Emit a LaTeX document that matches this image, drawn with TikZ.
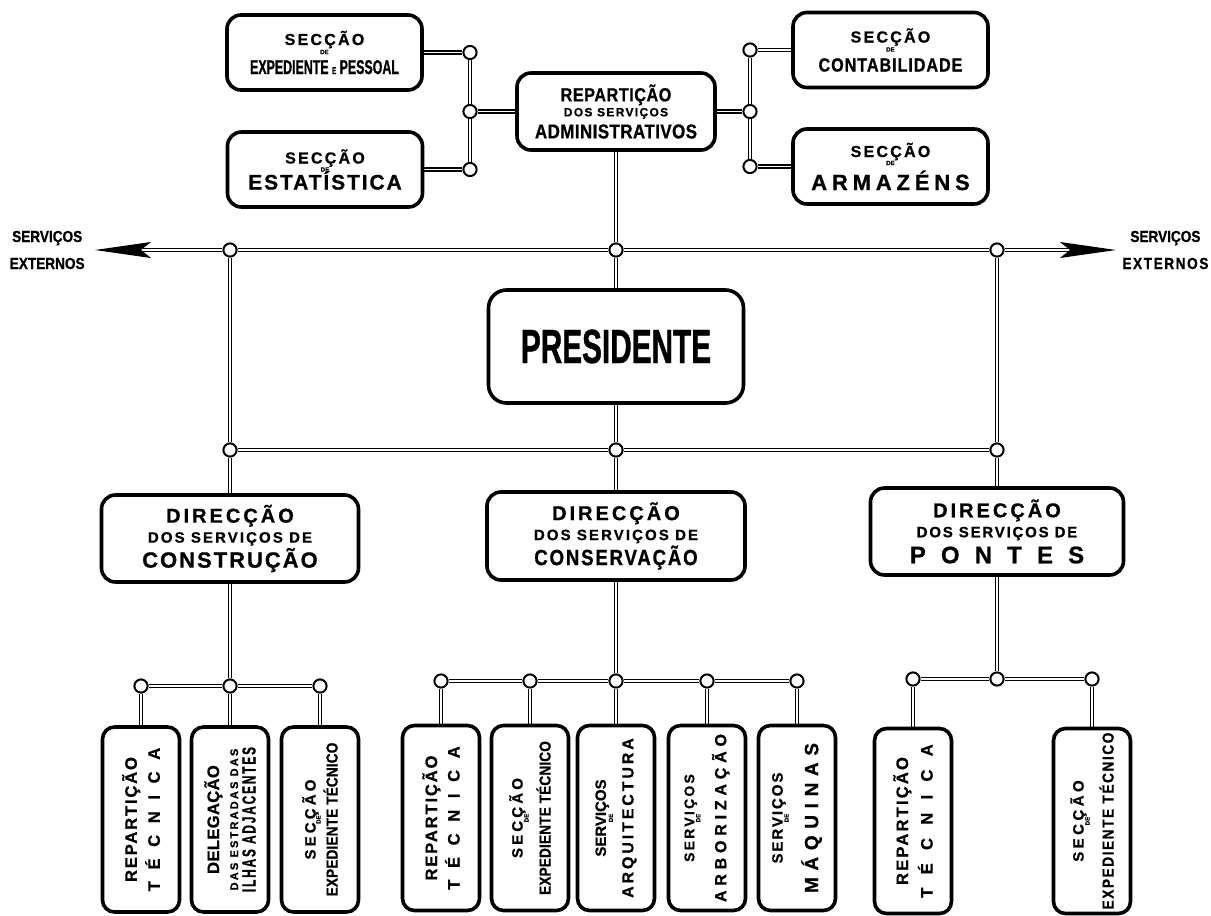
\documentclass[tikz,border=0pt]{standalone}
\usepackage{fontspec}
\setmainfont{Liberation Sans}[BoldFeatures={FakeBold=0.8}]
\newfontfamily\narrow{Liberation Sans}[FakeStretch=0.85,BoldFeatures={FakeBold=0.8}]
\newfontfamily\condfont{Liberation Sans}[FakeStretch=0.62,BoldFeatures={FakeBold=0.8}]
\usetikzlibrary{arrows.meta,backgrounds}
\newcommand\sz[1]{\fontsize{#1}{#1}\selectfont}
\newcommand\trk[2]{{\addfontfeatures{LetterSpace=#1}#2}}

\begin{document}
\begin{tikzpicture}[x=0.5pt,y=-0.5pt,>=Stealth,
  box/.style={draw,line width=1.8pt,rounded corners=7pt,align=center,inner sep=0pt,
    font=\bfseries\fontsize{8}{20}\selectfont},
  sect/.style={box,minimum width=97.5pt,minimum height=37.5pt},
  dirbox/.style={box,minimum width=128.5pt,minimum height=43.5pt},
  subbox/.style={box,rotate=90,minimum width=92.5pt,minimum height=38.5pt,rounded corners=6pt},
  junc/.style={circle,draw,fill=white,line width=1pt,minimum size=6.6pt,inner sep=0pt},
  conn/.style={double,line width=0.65pt,double distance=0.8pt},
  outarrow/.style={conn,-{Stealth[length=28pt,width=8pt,inset=5pt]}},
  outer/.style={font=\bfseries\fontsize{8}{20}\selectfont,align=center,inner sep=0pt}]
  \useasboundingbox (0,0) rectangle (1211,916);
  % administrative sections
  \node[sect] (exped) at (324.5,52.5) {\sz{8}\trk{14}{SECÇÃO}\\[-15.5pt]\sz{3}DE\\[-10pt]\condfont\sz{10}EXPEDIENTE {\sz{5}E} PESSOAL};
  \node[sect] (estat) at (325,169.5) {\sz{8}\trk{14}{SECÇÃO}\\[-16pt]\sz{3}DE\\[-11pt]\sz{10.5}\trk{9}{ESTATÍSTICA}};
  \node[sect] (contab) at (890.5,50) {\sz{8}\trk{14}{SECÇÃO}\\[-15.5pt]\sz{3}DE\\[-10pt]\narrow\sz{9.5}\trk{5}{CONTABILIDADE}};
  \node[sect] (armaz) at (890.5,166.5) {\sz{8}\trk{14}{SECÇÃO}\\[-16pt]\sz{3}DE\\[-7.5pt]\sz{11}\trk{22}{ARMAZÉNS}};
  \node[box,minimum width=99pt,minimum height=38.5pt] (admin) at (616,111.5)
    {\narrow\sz{9.5}\trk{3}{REPARTIÇÃO}\\[-12.5pt]\sz{6}\trk{11}{DOS SERVIÇOS}\\[-9pt]\narrow\sz{10}\trk{2}{ADMINISTRATIVOS}};
  \node[box,minimum width=127.5pt,minimum height=56.5pt,rounded corners=9pt] (pres) at (616,346.5)
    {\condfont\sz{24}PRESIDENTE};
  % direccoes
  \node[dirbox] (dconst) at (230,538.5)
    {\sz{10}\trk{15}{DIRECÇÃO}\\[-10pt]\sz{7.5}\trk{14}{DOS SERVIÇOS DE}\\[-7.5pt]\sz{11}\trk{9}{CONSTRUÇÃO}};
  \node[dirbox,minimum width=129pt,minimum height=44pt] (dcons) at (616,536)
    {\sz{10}\trk{15}{DIRECÇÃO}\\[-10pt]\sz{7.5}\trk{14}{DOS SERVIÇOS DE}\\[-7.5pt]\narrow\sz{11}\trk{8}{CONSERVAÇÃO}};
  \node[dirbox,minimum width=126.5pt] (dpont) at (997,531.5)
    {\sz{10}\trk{15}{DIRECÇÃO}\\[-10pt]\sz{7.5}\trk{12}{DOS SERVIÇOS DE}\\[-7pt]\sz{12}\trk{63}{PONTES}};
  % servicos externos
  \node[outer,anchor=east] (extL) at (85,250) {\narrow\sz{8}SERVIÇOS\\[-6.5pt]\narrow\sz{8}EXTERNOS};
  \node[outer,anchor=west] (extR) at (1122,250) {\narrow\sz{8}SERVIÇOS\\[-6.5pt]\narrow\sz{8}\trk{10}{EXTERNOS}};
  % junctions
  \foreach \n/\x/\y in {jl1/470/52.5,jl2/470/111.5,jl3/470/169.5,jr1/750/50,jr2/750/111.5,jr3/750/166.5,
      ja/230/250,jb/616/250,jc/997/250,jd/230/450,je/616/450,jf/997/450,
      k1/141/686,k2/230/686,k3/320/686,
      m1/441/681,m2/530/681,m3/616/681,m4/707/681,m5/797/681,
      p1/913/679,p2/997/679,p3/1092/679}
    \node[junc] (\n) at (\x,\y) {};
  % subordinate services
  \node[subbox] (s1) at (141,819.5) {\sz{8.3}\trk{11}{REPARTIÇÃO}\\[-8.5pt]\sz{8.3}\trk{70}{TÉCNICA}};
  \node[subbox] (s2) at (230,819.5) {\sz{8.3}\trk{2}{DELEGAÇÃO}\\[-10.5pt]\sz{5.5}\trk{20}{DAS ESTRADAS DAS}\\[-11.25pt]\condfont\sz{9.5}\trk{10}{ILHAS ADJACENTES}};
  \node[subbox] (s3) at (320,819.5) {\sz{7.5}\trk{21}{SECÇÃO}\\[-17.5pt]\sz{3}DE\\[-11.5pt]\narrow\sz{8}\trk{1}{EXPEDIENTE TÉCNICO}};
  \node[subbox] (t1) at (441,818) {\sz{8.3}\trk{11}{REPARTIÇÃO}\\[-8.75pt]\sz{8.3}\trk{70}{TÉCNICA}};
  \node[subbox] (t2) at (530,818) {\sz{7.5}\trk{21}{SECÇÃO}\\[-17pt]\sz{3}DE\\[-9pt]\narrow\sz{8}\trk{1}{EXPEDIENTE TÉCNICO}};
  \node[subbox] (t3) at (616,818) {\sz{7.5}SERVIÇOS\\[-16.5pt]\sz{3}DE\\[-9.75pt]\sz{8}\trk{18}{ARQUITECTURA}};
  \node[subbox] (t4) at (707,818) {\sz{7}\trk{16}{SERVIÇOS}\\[-17pt]\sz{3}DE\\[-7pt]\sz{8}\trk{30}{ARBORIZAÇÃO}};
  \node[subbox] (t5) at (797,818) {\sz{7.5}\trk{13}{SERVIÇOS}\\[-17pt]\sz{3}DE\\[-5.25pt]\sz{9.5}\trk{35}{MÁQUINAS}};
  \node[subbox] (u1) at (913,821) {\sz{8.3}\trk{13}{REPARTIÇÃO}\\[-7.7pt]\sz{8.3}\trk{80}{TÉCNICA}};
  \node[subbox] (u2) at (1092,821) {\sz{7.5}\trk{23}{SECÇÃO}\\[-17pt]\sz{3}DE\\[-8pt]\narrow\sz{8}\trk{10}{EXPEDIENTE TÉCNICO}};
  % connectors
  \begin{scope}[on background layer]
    \draw[conn] (exped) -- (jl1) -- (jl2) -- (jl3) -- (estat);
    \draw[conn] (jl2) -- (admin);
    \draw[conn] (contab) -- (jr1) -- (jr2) -- (jr3) -- (armaz);
    \draw[conn] (admin) -- (jr2);
    \draw[conn] (admin) -- (jb) -- (pres) -- (je) -- (dcons);
    \draw[conn] (ja) -- (jb) -- (jc);
    \draw[conn] (jd) -- (je) -- (jf);
    \draw[conn] (ja) -- (jd) -- (dconst);
    \draw[conn] (jc) -- (jf) -- (dpont);
    \draw[outarrow,shorten >=5pt] (ja) -- (extL.east);
    \draw[outarrow,shorten >=3pt] (jc) -- (extR.west);
    \draw[conn] (dconst) -- (k2);
    \draw[conn] (k1) -- (k2) -- (k3);
    \draw[conn] (dcons) -- (m3);
    \draw[conn] (m1) -- (m2) -- (m3) -- (m4) -- (m5);
    \draw[conn] (dpont) -- (p2);
    \draw[conn] (p1) -- (p2) -- (p3);
    \foreach \j/\s in {k1/s1,k2/s2,k3/s3,m1/t1,m2/t2,m3/t3,m4/t4,m5/t5,p1/u1,p3/u2}
      \draw[conn] (\j) -- (\s);
  \end{scope}
\end{tikzpicture}
\end{document}
